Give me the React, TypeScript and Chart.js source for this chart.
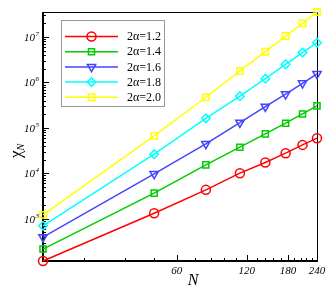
import React, { useEffect, useRef } from "react";
import { Chart, registerables } from "chart.js";

Chart.register(...registerables);

const nValues = [16, 48, 80, 112, 144, 176, 208, 240];
const seriesLabels = ["2α=1.2", "2α=1.4", "2α=1.6", "2α=1.8", "2α=2.0"];
const chi12 = [118, 1330, 4340, 10100, 17300, 27800, 42300, 59400];
const chi14 = [216, 3670, 15400, 37700, 73800, 127000, 203000, 305000];
const chi16 = [396, 9750, 44500, 131000, 294000, 551000, 960000, 1540000];
const chi18 = [702, 26400, 163000, 498000, 1210000, 2510000, 4540000, 7500000];
const chi20 = [1224, 66700, 473000, 1790000, 4750000, 10500000, 20000000, 35500000];
const seriesValues = [chi12, chi14, chi16, chi18, chi20];
const seriesColors = ["#ff0000", "#00cc00", "#4444ff", "#00ffff", "#ffff00"];
const seriesPoints = ["circle", "rect", "triangle", "rectRot", "rect"];
const seriesRotation = [0, 0, 180, 0, 0];
const seriesRadius = [4.5, 4.3, 4.8, 4.3, 4.5];

const xMajorTicks = [60, 120, 180, 240];
const xMinorTicks = [24, 36, 48, 72, 84, 96, 108, 132, 144, 156, 168, 192, 204, 216, 228];
const yTickExponents = [3, 4, 5, 6, 7];
const xRange = [16, 240];
const yRange = [118, 35500000];

const SERIF = '"Liberation Serif", "Times New Roman", serif';

const framePlugin = {
  id: "frame",
  beforeDatasetsDraw(chart: any) {
    const ctx = chart.ctx;
    const a = chart.chartArea;
    const xs = chart.scales.x;
    const ys = chart.scales.y;
    ctx.save();
    ctx.strokeStyle = "#000";
    // top and right thin
    ctx.lineWidth = 1;
    ctx.beginPath();
    ctx.moveTo(a.left, a.top + 0.5);
    ctx.lineTo(a.right + 0.5, a.top + 0.5);
    ctx.lineTo(a.right + 0.5, a.bottom);
    ctx.stroke();
    // left and bottom thick
    ctx.lineWidth = 2;
    ctx.beginPath();
    ctx.moveTo(a.left, a.top);
    ctx.lineTo(a.left, a.bottom);
    ctx.lineTo(a.right + 1, a.bottom);
    ctx.stroke();

    // y ticks
    ctx.lineWidth = 1;
    ctx.beginPath();
    for (let e = 2; e <= 7; e++) {
      for (let k = 1; k <= 9; k++) {
        const v = k * Math.pow(10, e);
        if (v < yRange[0] || v > yRange[1]) continue;
        const y = Math.round(ys.getPixelForValue(v)) + 0.5;
        const len = k === 1 ? 6 : 3;
        ctx.moveTo(a.left, y);
        ctx.lineTo(a.left + len, y);
      }
    }
    // x ticks
    xMajorTicks.forEach((v) => {
      const x = Math.round(xs.getPixelForValue(v)) + 0.5;
      ctx.moveTo(x, a.bottom);
      ctx.lineTo(x, a.bottom - 6);
    });
    xMinorTicks.forEach((v) => {
      const x = Math.round(xs.getPixelForValue(v)) + 0.5;
      ctx.moveTo(x, a.bottom);
      ctx.lineTo(x, a.bottom - 3);
    });
    ctx.stroke();

    // y tick labels
    ctx.fillStyle = "#000";
    yTickExponents.forEach((e) => {
      const y = ys.getPixelForValue(Math.pow(10, e));
      ctx.font = `italic 11px ${SERIF}`;
      ctx.textAlign = "right";
      ctx.textBaseline = "middle";
      ctx.fillText("10", 35, y + 1);
      ctx.font = `italic 7px ${SERIF}`;
      ctx.textAlign = "left";
      ctx.fillText(String(e), 35.5, y - 3);
    });
    // x tick labels
    ctx.font = `italic 11px ${SERIF}`;
    ctx.textAlign = "center";
    ctx.textBaseline = "middle";
    xMajorTicks.forEach((v) => {
      const x = xs.getPixelForValue(v);
      ctx.fillText(String(v), x, a.bottom + 10);
    });
    // x title
    ctx.font = `italic 16px ${SERIF}`;
    ctx.fillText("N", 193, 281);
    // y title
    ctx.save();
    ctx.translate(17, 152);
    ctx.rotate(-Math.PI / 2);
    ctx.textAlign = "left";
    ctx.textBaseline = "alphabetic";
    ctx.font = `17px ${SERIF}`;
    ctx.fillText("χ", -6, 4);
    const w = ctx.measureText("χ").width;
    ctx.font = `italic 10px ${SERIF}`;
    ctx.fillText("N", -6 + w, 7);
    ctx.restore();
    ctx.restore();
  },
  afterDatasetsDraw(chart: any) {
    const ctx = chart.ctx;
    ctx.save();
    const bx = 61.5, by = 20.5, bw = 103, bh = 86;
    ctx.fillStyle = "#fff";
    ctx.fillRect(bx, by, bw, bh);
    ctx.strokeStyle = "#999";
    ctx.lineWidth = 1;
    ctx.strokeRect(bx, by, bw, bh);
    chart.data.datasets.forEach((ds: any, i: number) => {
      const y = 36.5 + i * 15.2;
      ctx.strokeStyle = ds.borderColor;
      ctx.lineWidth = 1.5;
      ctx.beginPath();
      ctx.moveTo(65, y);
      ctx.lineTo(118, y);
      ctx.stroke();
      ctx.lineWidth = 1.5;
      (Chart as any).helpers?.drawPoint
        ? null
        : null;
      drawMarker(ctx, ds.pointStyle, 91.5, y, ds.pointRadius, ds.pointRotation, ds.borderColor);
      ctx.fillStyle = "#000";
      ctx.font = `12px ${SERIF}`;
      ctx.textAlign = "left";
      ctx.textBaseline = "middle";
      ctx.fillText(ds.label, 127, y + 0.5);
    });
    ctx.restore();
  },
};

function drawMarker(ctx: any, style: string, x: number, y: number, r: number, rot: number, color: string) {
  ctx.save();
  ctx.strokeStyle = color;
  ctx.lineWidth = 1.5;
  ctx.translate(x, y);
  ctx.rotate((rot * Math.PI) / 180);
  ctx.beginPath();
  if (style === "circle") {
    ctx.arc(0, 0, r, 0, Math.PI * 2);
  } else if (style === "rect") {
    const s = Math.SQRT1_2 * r;
    ctx.rect(-s, -s, 2 * s, 2 * s);
  } else if (style === "rectRot") {
    ctx.moveTo(0, -r);
    ctx.lineTo(r, 0);
    ctx.lineTo(0, r);
    ctx.lineTo(-r, 0);
    ctx.closePath();
  } else if (style === "triangle") {
    const h = r * 1.5;
    const half = (r * Math.sqrt(3)) / 2 * 1.0;
    ctx.moveTo(0, -r);
    ctx.lineTo(half, r / 2);
    ctx.lineTo(-half, r / 2);
    ctx.closePath();
    void h;
  }
  ctx.stroke();
  ctx.restore();
}

export default function App() {
  const ref = useRef<HTMLCanvasElement>(null);
  useEffect(() => {
    if (!ref.current) return;
    const chart = new Chart(ref.current, {
      type: "line",
      data: {
        datasets: seriesValues.map((vals, i) => ({
          label: seriesLabels[i],
          data: vals.map((v, j) => ({ x: nValues[j], y: v })),
          borderColor: seriesColors[i],
          backgroundColor: "transparent",
          pointBackgroundColor: "transparent",
          pointBorderColor: seriesColors[i],
          pointStyle: seriesPoints[i] as any,
          pointRotation: seriesRotation[i],
          pointRadius: seriesRadius[i],
          pointBorderWidth: 1.5,
          borderWidth: 1.5,
          clip: false as any,
          tension: 0,
        })),
      },
      options: {
        animation: false,
        responsive: false,
        maintainAspectRatio: false,
        layout: { padding: { left: 43, top: 12, right: 14, bottom: 34 } },
        plugins: { legend: { display: false }, tooltip: { enabled: false } },
        scales: {
          x: { type: "logarithmic", display: false, min: xRange[0], max: xRange[1] },
          y: { type: "logarithmic", display: false, min: yRange[0], max: yRange[1] },
        },
      },
      plugins: [framePlugin],
    });
    return () => chart.destroy();
  }, []);
  return (
    <div style={{ position: "fixed", left: 0, top: 0, width: 331, height: 295, background: "#fff" }}>
      <canvas ref={ref} width={331} height={295} style={{ display: "block" }} />
    </div>
  );
}
